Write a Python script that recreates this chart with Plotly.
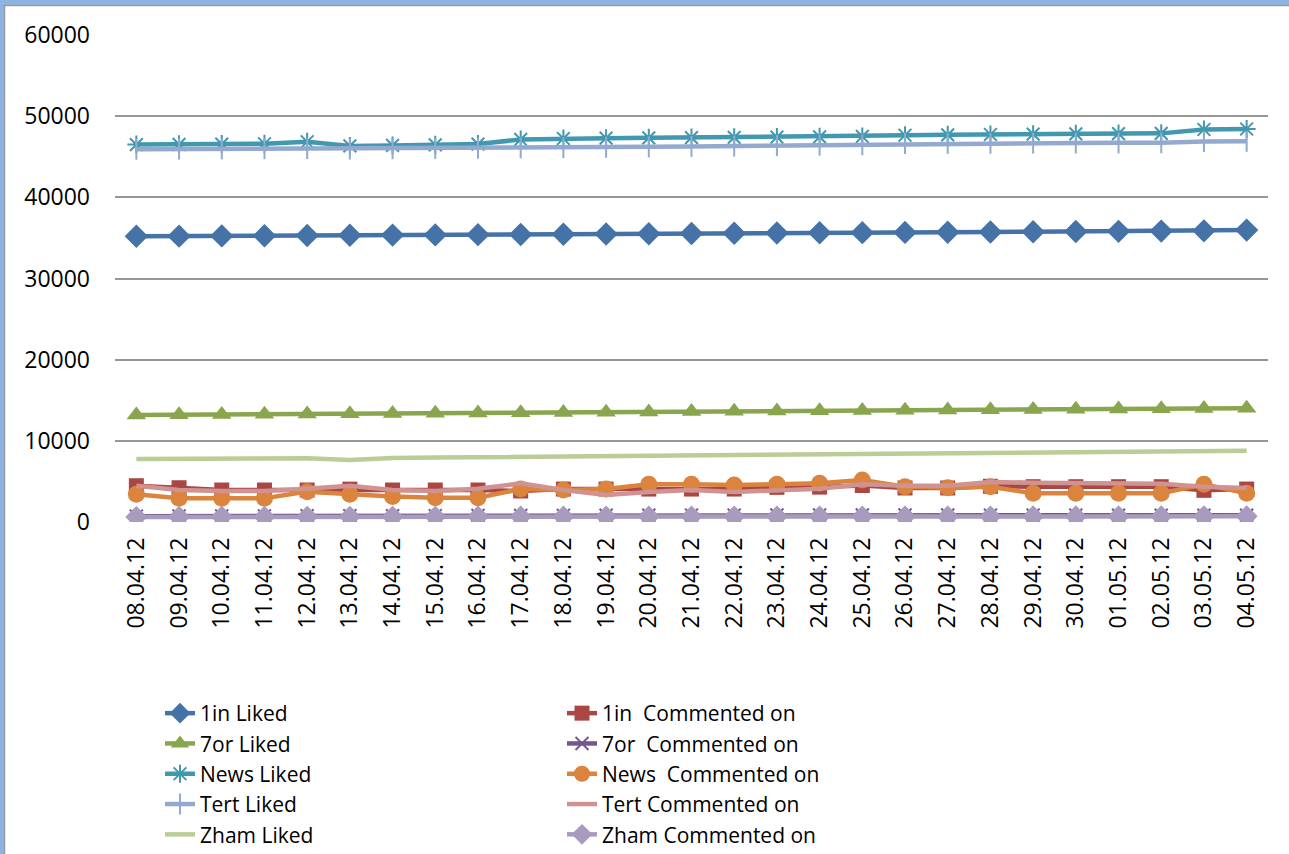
import plotly.graph_objects as go

# Dates (dd.mm.yy)
dates = ["08.04.12", "09.04.12", "10.04.12", "11.04.12", "12.04.12", "13.04.12",
         "14.04.12", "15.04.12", "16.04.12", "17.04.12", "18.04.12", "19.04.12",
         "20.04.12", "21.04.12", "22.04.12", "23.04.12", "24.04.12", "25.04.12",
         "26.04.12", "27.04.12", "28.04.12", "29.04.12", "30.04.12", "01.05.12",
         "02.05.12", "03.05.12", "04.05.12"]

in1_liked = [35200, 35220, 35250, 35260, 35290, 35320, 35350, 35370, 35400, 35430,
             35460, 35490, 35510, 35540, 35570, 35600, 35630, 35650, 35680, 35700,
             35730, 35760, 35790, 35810, 35840, 35870, 35960]
in1_commented = [4470, 4220, 3940, 3940, 3940, 4050, 3940, 3940, 3940, 3820,
                 4060, 4060, 4060, 4060, 4060, 4270, 4300, 4500, 4190, 4190,
                 4400, 4350, 4350, 4350, 4350, 3900, 4060]
or7_liked = [13180, 13210, 13240, 13270, 13300, 13330, 13360, 13390, 13420, 13450,
             13480, 13520, 13560, 13600, 13640, 13680, 13710, 13740, 13770, 13800,
             13830, 13860, 13890, 13920, 13950, 13980, 14020]
or7_commented = [720, 730, 740, 750, 760, 770, 780, 790, 800, 810, 820, 830, 840,
                 850, 850, 860, 860, 860, 860, 860, 850, 850, 850, 840, 840, 830, 830]
news_liked = [46500, 46530, 46560, 46600, 46850, 46330, 46400, 46470, 46560, 47130,
              47250, 47290, 47330, 47360, 47390, 47420, 47450, 47500, 47650, 47700,
              47740, 47780, 47820, 47850, 47880, 48360, 48420]
news_commented = [3410, 2920, 2920, 2920, 3740, 3410, 3140, 3000, 3000, 4060,
                  3940, 4060, 4640, 4640, 4560, 4640, 4760, 5170, 4350, 4230,
                  4350, 3530, 3530, 3530, 3530, 4640, 3530]
tert_liked = [45930, 45950, 45970, 45990, 46010, 45950, 45990, 46020, 46050, 46100,
              46130, 46170, 46220, 46270, 46320, 46380, 46430, 46480, 46630, 46650,
              46660, 46680, 46690, 46710, 46720, 46880, 46900]
tert_commented = [4470, 3940, 3820, 3820, 4100, 4470, 3940, 3820, 4100, 4760,
                  3940, 3320, 3700, 3940, 3700, 3940, 4100, 4640, 4470, 4470,
                  4930, 4850, 4800, 4750, 4700, 4350, 4200]
zham_liked = [7760, 7780, 7810, 7840, 7860, 7640, 7900, 7940, 7980, 8020, 8060,
              8110, 8160, 8200, 8240, 8280, 8320, 8360, 8400, 8440, 8480, 8520,
              8560, 8600, 8640, 8700, 8780]
zham_commented = [620, 630, 640, 640, 650, 650, 650, 650, 660, 660, 660, 660, 670,
                  670, 670, 670, 680, 680, 680, 680, 680, 690, 690, 690, 690, 700, 700]

y_ticks = [0, 10000, 20000, 30000, 40000, 50000, 60000]

FONT = "Open Sans"

series = [
    ("1in Liked", in1_liked, "#4572A7", 4.5, dict(symbol="diamond", size=18)),
    ("1in  Commented on", in1_commented, "#AA4643", 4.5, dict(symbol="square", size=15)),
    ("7or Liked", or7_liked, "#89A54E", 4.5, dict(symbol="triangle-up", size=17)),
    ("7or  Commented on", or7_commented, "#71588F", 4.5,
     dict(symbol="x-thin-open", size=13, line=dict(width=2, color="#71588F"))),
    ("News Liked", news_liked, "#4198AF", 4.5,
     dict(symbol="asterisk-open", size=15, line=dict(width=2, color="#4198AF"))),
    ("News  Commented on", news_commented, "#DB843D", 4.5, dict(symbol="circle", size=17)),
    ("Tert Liked", tert_liked, "#93A9CF", 4.5,
     dict(symbol="line-ns-open", size=15, line=dict(width=2, color="#93A9CF"))),
    ("Tert Commented on", tert_commented, "#D19392", 4.5, None),
    ("Zham Liked", zham_liked, "#B9CD96", 4.5, None),
    ("Zham Commented on", zham_commented, "#A99BBD", 4.5, dict(symbol="diamond", size=17)),
]

fig = go.Figure()
for name, vals, color, width, marker in series:
    if marker is None:
        fig.add_trace(go.Scatter(x=dates, y=vals, name=name, mode="lines",
                                 line=dict(color=color, width=width)))
    else:
        m = dict(color=color)
        m.update(marker)
        fig.add_trace(go.Scatter(x=dates, y=vals, name=name, mode="lines+markers",
                                 line=dict(color=color, width=width), marker=m))

L, R, T, B = 115, 21, 35, 332
W, H = 1289, 854
pw, ph = W - L - R, H - T - B


def px(x):
    return (x - L) / pw


def py(y):
    return (H - B - y) / ph


# window-style frame on the left and top edges
frame = [
    dict(type="rect", xref="paper", yref="paper", x0=px(0), x1=px(4), y0=py(H), y1=py(0),
         fillcolor="#8DB3E2", line_width=0, layer="above"),
    dict(type="rect", xref="paper", yref="paper", x0=px(0), x1=px(W), y0=py(5), y1=py(0),
         fillcolor="#8DB3E2", line_width=0, layer="above"),
    dict(type="line", xref="paper", yref="paper", x0=px(4.5), x1=px(4.5), y0=py(H), y1=py(5),
         line=dict(color="#9a9a9a", width=1.5), layer="above"),
    dict(type="line", xref="paper", yref="paper", x0=px(4.5), x1=px(W), y0=py(5.5), y1=py(5.5),
         line=dict(color="#9a9a9a", width=1.5), layer="above"),
]

fig.update_layout(
    width=W, height=H,
    margin=dict(l=L, r=R, t=T, b=B, pad=0),
    paper_bgcolor="white", plot_bgcolor="white",
    font=dict(family=FONT, size=23, color="black"),
    shapes=frame,
    showlegend=True,
    legend=dict(
        orientation="h", xref="container", yref="container",
        x=160 / W, xanchor="left", y=1 - 693 / H, yanchor="top",
        entrywidth=357, entrywidthmode="pixels",
        font=dict(family=FONT, size=21, color="black"),
        bgcolor="rgba(0,0,0,0)", traceorder="normal",
    ),
    xaxis=dict(
        type="category", range=[-0.5, len(dates) - 0.5],
        tickangle=-90, showgrid=False, zeroline=False,
        showline=False, ticks="", ticklabelstandoff=10,
        tickfont=dict(family=FONT, size=23),
    ),
    yaxis=dict(
        range=[0, 60000], tickvals=y_ticks, ticktext=[str(v) for v in y_ticks],
        showgrid=True, gridcolor="#969696", gridwidth=2, zeroline=False,
        showline=False, ticks="", ticklabelstandoff=24,
        tickfont=dict(family=FONT, size=23),
    ),
)

fig.write_html("out.html")
